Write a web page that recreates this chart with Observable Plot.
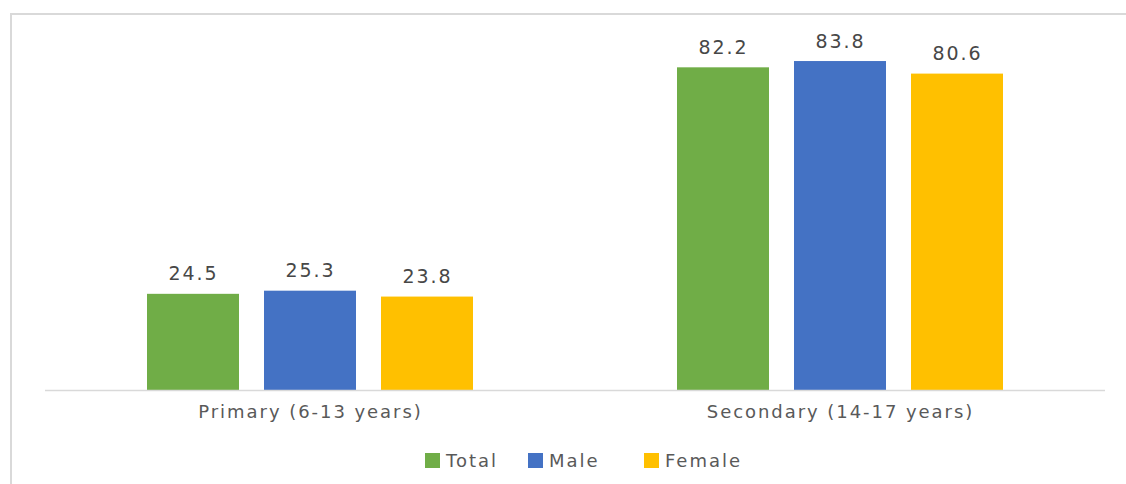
<!DOCTYPE html>
<html>
<head>
<meta charset="utf-8">
<script src="https://cdn.jsdelivr.net/npm/d3@7"></script>
<script src="https://cdn.jsdelivr.net/npm/@observablehq/plot@0.6"></script>
<style>
  html, body { margin: 0; padding: 0; background: #fff; overflow: hidden; }
  #wrap { position: relative; width: 1126px; height: 484px; }
  #frame { position: absolute; left: 10px; top: 13px; width: 1140px; height: 500px; border: 2px solid #d9d9d9; box-sizing: border-box; }
  #chart { position: absolute; left: 0; top: 0; }
  #legend { position: absolute; left: 425px; top: 450px; display: flex; font-family: "DejaVu Sans", sans-serif; font-size: 18px; color: #595959; letter-spacing: 2px; }
  .item { display: flex; align-items: center; }
  .sw { width: 15px; height: 15px; margin-right: 6px; }
</style>
</head>
<body>
<div id="wrap">
  <div id="frame"></div>
  <div id="chart"></div>
  <div id="legend"></div>
</div>
<script>
const groups = ["Primary (6-13 years)", "Secondary (14-17 years)"];
const seriesNames = ["Total", "Male", "Female"];
const totalValues = [24.5, 82.2];
const maleValues = [25.3, 83.8];
const femaleValues = [23.8, 80.6];
const colors = ["#70AD47", "#4472C4", "#FFC000"];

const valuesBySeries = [totalValues, maleValues, femaleValues];
const data = groups.flatMap((g, i) =>
  seriesNames.map((s, j) => ({group: g, series: s, value: valuesBySeries[j][i]}))
);

const chart = Plot.plot({
  width: 1126,
  height: 430,
  marginLeft: 45,
  marginRight: 21,
  marginTop: 36.7,
  marginBottom: 40,
  style: {fontFamily: "'DejaVu Sans', sans-serif", fontSize: "18px", color: "#595959", background: "transparent", letterSpacing: "1.95px"},
  fx: {domain: groups, paddingInner: 0, paddingOuter: 0, label: null, axis: "bottom", tickSize: 0, tickPadding: 15},
  x: {domain: seriesNames, paddingInner: 0.2128, paddingOuter: 0.8617, axis: null},
  y: {domain: [0, 90], axis: null},
  color: {domain: seriesNames, range: colors},
  marks: [
    Plot.barY(data, {fx: "group", x: "series", y: "value", fill: "series"}),
    Plot.ruleY([0], {stroke: "#d9d9d9", strokeWidth: 1.5}),
    Plot.text(data, {fx: "group", x: "series", y: "value", text: d => d.value.toFixed(1), dy: -20, fill: "#474747", fontSize: 19, letterSpacing: "1.8px"})
  ]
});
document.getElementById("chart").appendChild(chart);

const itemWidths = ["103px", "116px", "auto"];
const legend = document.getElementById("legend");
seriesNames.forEach((s, i) => {
  const item = document.createElement("div");
  item.className = "item";
  item.style.width = itemWidths[i];
  const sw = document.createElement("span");
  sw.className = "sw";
  sw.style.background = colors[i];
  const t = document.createElement("span");
  t.textContent = s;
  item.appendChild(sw);
  item.appendChild(t);
  legend.appendChild(item);
});
</script>
</body>
</html>
